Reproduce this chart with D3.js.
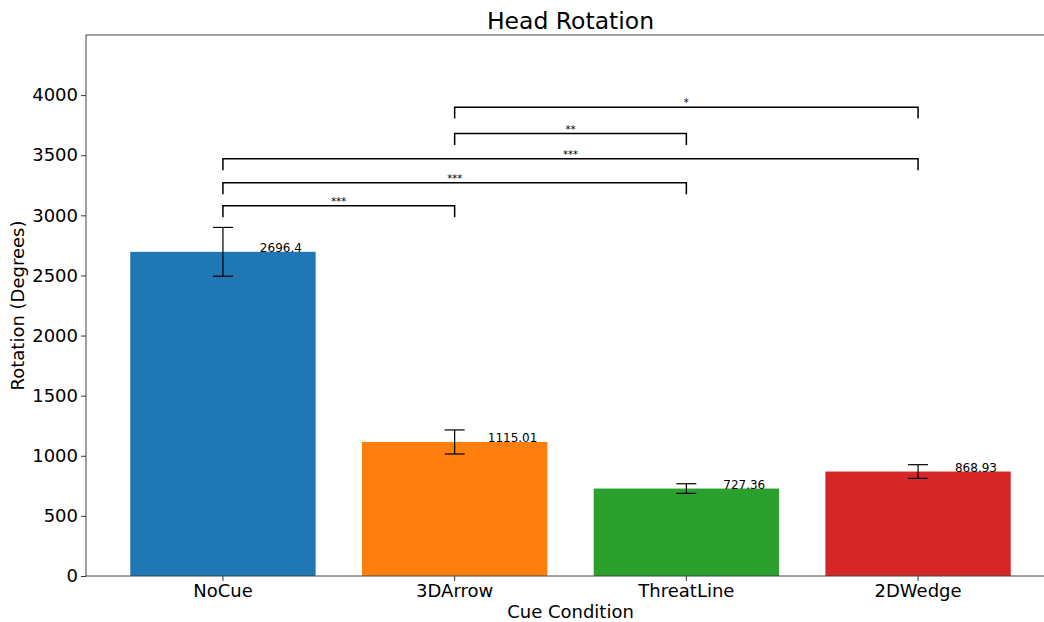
<!DOCTYPE html>
<html>
<head>
<meta charset="utf-8">
<script src="https://cdn.jsdelivr.net/npm/d3@7"></script>
<style>
  body { margin: 0; background: #fff; }
  svg text { font-family: "DejaVu Sans", sans-serif; fill: #000; }
</style>
</head>
<body>
<script>
// data
const categories = ['NoCue', '3DArrow', 'ThreatLine', '2DWedge'];
const means = [2696.4, 1115.01, 727.36, 868.93];
const errors = [203, 100, 40, 57];
const colors = ['#1f77b4', '#ff7f0e', '#2ca02c', '#d62728'];
const yTicks = [0, 500, 1000, 1500, 2000, 2500, 3000, 3500, 4000];

// significance brackets
const bracketPairs = [[0, 1], [0, 2], [0, 3], [1, 2], [1, 3]];
const bracketLevels = [3080, 3270, 3470, 3680, 3900];
const bracketLabels = ['***', '***', '***', '**', '*'];
const bracketDrop = 95;

const width = 1044;
const height = 622;
const margin = { top: 35, left: 86, bottom: 46 };
const plotRight = 1055; // right spine falls just outside the picture

const svg = d3.select('body')
  .append('svg')
  .attr('width', width)
  .attr('height', height);

const x = d3.scaleBand()
  .domain(categories)
  .range([margin.left, plotRight])
  .paddingInner(0.2)
  .paddingOuter(0.191);

const y = d3.scaleLinear()
  .domain([0, 4500])
  .range([height - margin.bottom, margin.top]);

const cx = d => x(d) + x.bandwidth() / 2;

// bars
svg.selectAll('rect.bar')
  .data(categories)
  .enter()
  .append('rect')
  .attr('class', 'bar')
  .attr('x', d => x(d))
  .attr('y', (d, i) => y(means[i]))
  .attr('width', x.bandwidth())
  .attr('height', (d, i) => y(0) - y(means[i]))
  .attr('fill', (d, i) => colors[i]);

// error bars
const eb = svg.selectAll('g.err')
  .data(categories)
  .enter()
  .append('g')
  .attr('class', 'err')
  .attr('stroke', '#000')
  .attr('stroke-width', 1.2);

eb.append('line')
  .attr('x1', d => cx(d)).attr('x2', d => cx(d))
  .attr('y1', (d, i) => y(means[i] - errors[i]))
  .attr('y2', (d, i) => y(means[i] + errors[i]));

eb.append('line')
  .attr('x1', d => cx(d) - 10).attr('x2', d => cx(d) + 10)
  .attr('y1', (d, i) => y(means[i] + errors[i]))
  .attr('y2', (d, i) => y(means[i] + errors[i]));

eb.append('line')
  .attr('x1', d => cx(d) - 10).attr('x2', d => cx(d) + 10)
  .attr('y1', (d, i) => y(means[i] - errors[i]))
  .attr('y2', (d, i) => y(means[i] - errors[i]));

// value labels, centred a quarter step right of each bar centre
svg.selectAll('text.val')
  .data(categories)
  .enter()
  .append('text')
  .attr('class', 'val')
  .attr('x', d => cx(d) + x.step() * 0.25)
  .attr('y', (d, i) => y(means[i]))
  .attr('text-anchor', 'middle')
  .attr('font-size', 12)
  .text((d, i) => String(means[i]));

// brackets
const br = svg.selectAll('g.bracket')
  .data(bracketPairs)
  .enter()
  .append('g')
  .attr('class', 'bracket');

br.append('path')
  .attr('fill', 'none')
  .attr('stroke', '#000')
  .attr('stroke-width', 1.5)
  .attr('d', (p, i) => {
    const x1 = cx(categories[p[0]]);
    const x2 = cx(categories[p[1]]);
    const yl = y(bracketLevels[i]);
    const yd = y(bracketLevels[i] - bracketDrop);
    return `M${x1},${yd}L${x1},${yl}L${x2},${yl}L${x2},${yd}`;
  });

br.append('text')
  .attr('x', p => (cx(categories[p[0]]) + cx(categories[p[1]])) / 2)
  .attr('y', (p, i) => y(bracketLevels[i]) - 1)
  .attr('text-anchor', 'middle')
  .attr('font-size', 10)
  .text((p, i) => bracketLabels[i]);

// axes
const xAxis = d3.axisBottom(x).tickSize(5).tickPadding(3);
const yAxis = d3.axisLeft(y).tickValues(yTicks).tickFormat(d3.format('d')).tickSize(5).tickPadding(3);

const gx = svg.append('g')
  .attr('transform', `translate(0, ${y(0)})`)
  .call(xAxis);
gx.select('.domain').remove();
gx.selectAll('text').attr('font-size', 18).attr('font-family', 'DejaVu Sans, sans-serif').attr('fill', '#000');
gx.selectAll('line').attr('stroke', '#333');

const gy = svg.append('g')
  .attr('transform', `translate(${margin.left}, 0)`)
  .call(yAxis);
gy.select('.domain').remove();
gy.selectAll('text').attr('font-size', 18).attr('font-family', 'DejaVu Sans, sans-serif').attr('fill', '#000');
gy.selectAll('line').attr('stroke', '#333');

// spines
svg.append('rect')
  .attr('x', margin.left)
  .attr('y', margin.top)
  .attr('width', plotRight - margin.left)
  .attr('height', y(0) - margin.top)
  .attr('fill', 'none')
  .attr('stroke', '#444')
  .attr('stroke-width', 1);

// titles
svg.append('text')
  .attr('x', (margin.left + plotRight) / 2)
  .attr('y', 29)
  .attr('text-anchor', 'middle')
  .attr('font-size', 23.5)
  .text('Head Rotation');

svg.append('text')
  .attr('x', (margin.left + plotRight) / 2)
  .attr('y', 618)
  .attr('text-anchor', 'middle')
  .attr('font-size', 18)
  .text('Cue Condition');

svg.append('text')
  .attr('transform', `translate(24, ${(margin.top + y(0)) / 2}) rotate(-90)`)
  .attr('text-anchor', 'middle')
  .attr('font-size', 18)
  .text('Rotation (Degrees)');
</script>
</body>
</html>
